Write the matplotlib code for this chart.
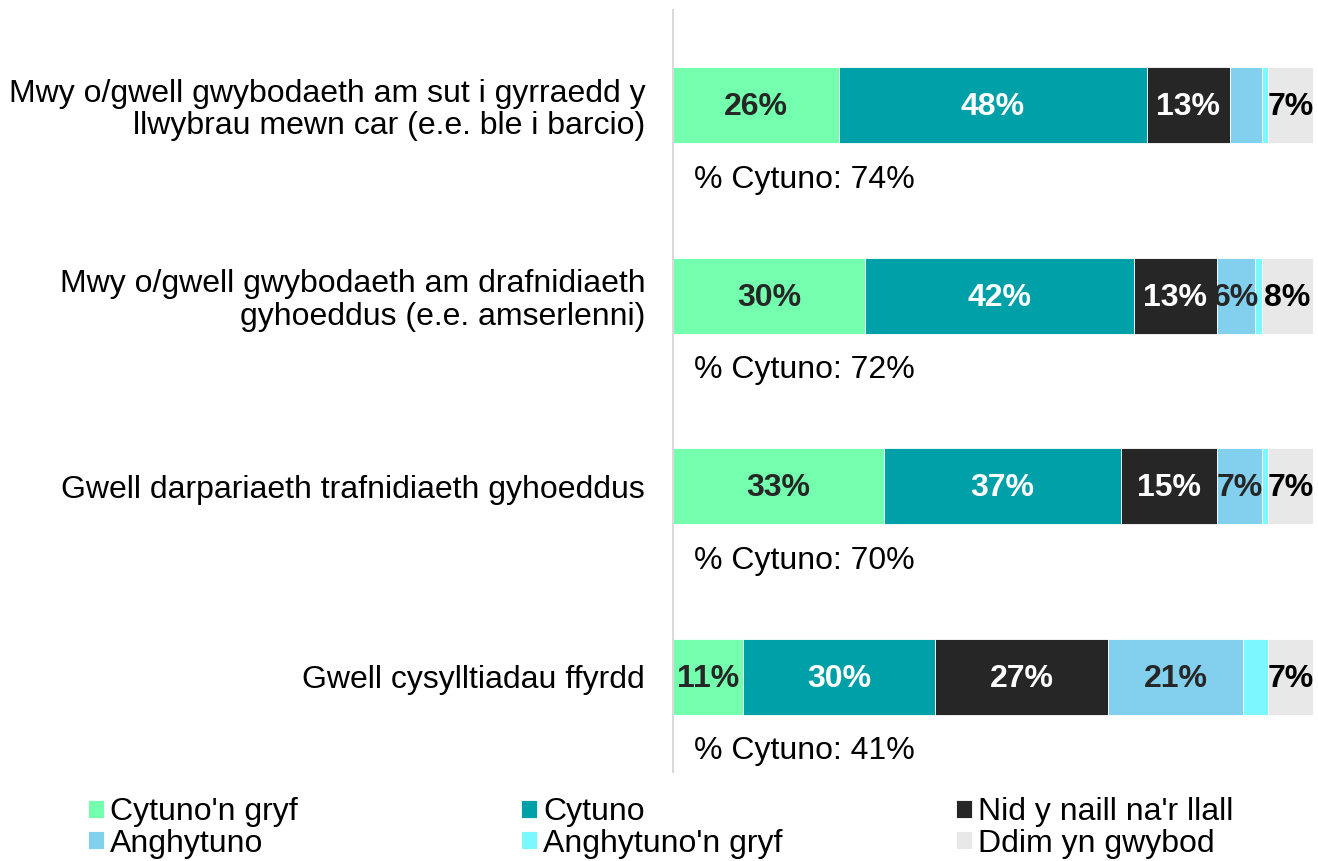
import matplotlib.pyplot as plt
import numpy as np

plt.rcParams['font.family'] = ['Liberation Sans', 'DejaVu Sans']

categories = [
    "Mwy o/gwell gwybodaeth am sut i gyrraedd y\nllwybrau mewn car (e.e. ble i barcio)",
    "Mwy o/gwell gwybodaeth am drafnidiaeth\ngyhoeddus (e.e. amserlenni)",
    "Gwell darpariaeth trafnidiaeth gyhoeddus",
    "Gwell cysylltiadau ffyrdd",
]
series_names = ["Cytuno'n gryf", "Cytuno", "Nid y naill na'r llall",
                "Anghytuno", "Anghytuno'n gryf", "Ddim yn gwybod"]
cytuno_gryf = [26, 30, 33, 11]
cytuno = [48, 42, 37, 30]
nid_naill = [13, 13, 15, 27]
anghytuno = [5, 6, 7, 21]
anghytuno_gryf = [1, 1, 1, 4]
ddim_gwybod = [7, 8, 7, 7]
cytuno_total = [74, 72, 70, 41]

# which segments carry a label (5% in row 1 and strongly disagree are unlabelled)
show_label = [
    [True, True, True, True],
    [True, True, True, True],
    [True, True, True, True],
    [False, True, True, True],
    [False, False, False, False],
    [True, True, True, True],
]

colors = ['#73FFAE', '#00A0A8', '#262626', '#83D0EE', '#7BF7FF', '#E8E8E8']
label_colors = ['#262626', 'white', 'white', '#262626', '#262626', 'black']

series = [cytuno_gryf, cytuno, nid_naill, anghytuno, anghytuno_gryf, ddim_gwybod]

fig = plt.figure(figsize=(13.18, 8.61), dpi=100)
ax = fig.add_axes([673 / 1318, 1 - 772 / 861, 640 / 1318, 762 / 861])

y = np.arange(len(categories))
left = np.zeros(len(categories))
bars = []
for k, vals in enumerate(series):
    vals = np.array(vals, dtype=float)
    b = ax.barh(y, vals, left=left, height=0.4, color=colors[k],
                edgecolor='white', linewidth=0.6, label=series_names[k])
    bars.append(b)
    for i, v in enumerate(vals):
        if show_label[k][i]:
            ax.text(left[i] + v / 2, y[i] + 0.01, f"{int(v)}%", ha='center', va='center',
                    fontsize=23, fontweight='bold', color=label_colors[k])
    left += vals

for i, t in enumerate(cytuno_total):
    ax.text(20.5, y[i] + 0.39, f"% Cytuno: {t}%", ha='center', va='center',
            fontsize=23, color='black')

ax.set_xlim(0, 100)
ax.set_ylim(3.5, -0.5)
ax.set_yticks(y)
ax.set_yticklabels(categories, fontsize=23, linespacing=1.1, ha='right')
ax.tick_params(axis='y', length=0, pad=20)
ax.set_xticks([])
for s in ['top', 'right', 'bottom']:
    ax.spines[s].set_visible(False)
ax.spines['left'].set_color('#D9D9D9')
ax.spines['left'].set_linewidth(1.5)

# legend: three fixed-width columns, filled row by row
col_x = [88 / 1318, 521 / 1318, 956 / 1318]
for c in range(3):
    hs = [bars[c], bars[c + 3]]
    ls = [series_names[c], series_names[c + 3]]
    leg = fig.legend(hs, ls, loc='upper left', bbox_to_anchor=(col_x[c], 1 - 797 / 861),
                     frameon=False, fontsize=23, handlelength=0.5, handleheight=0.5,
                     handletextpad=0.2, labelspacing=0.05, borderpad=0, borderaxespad=0)

fig.savefig('out.png', dpi=100)
